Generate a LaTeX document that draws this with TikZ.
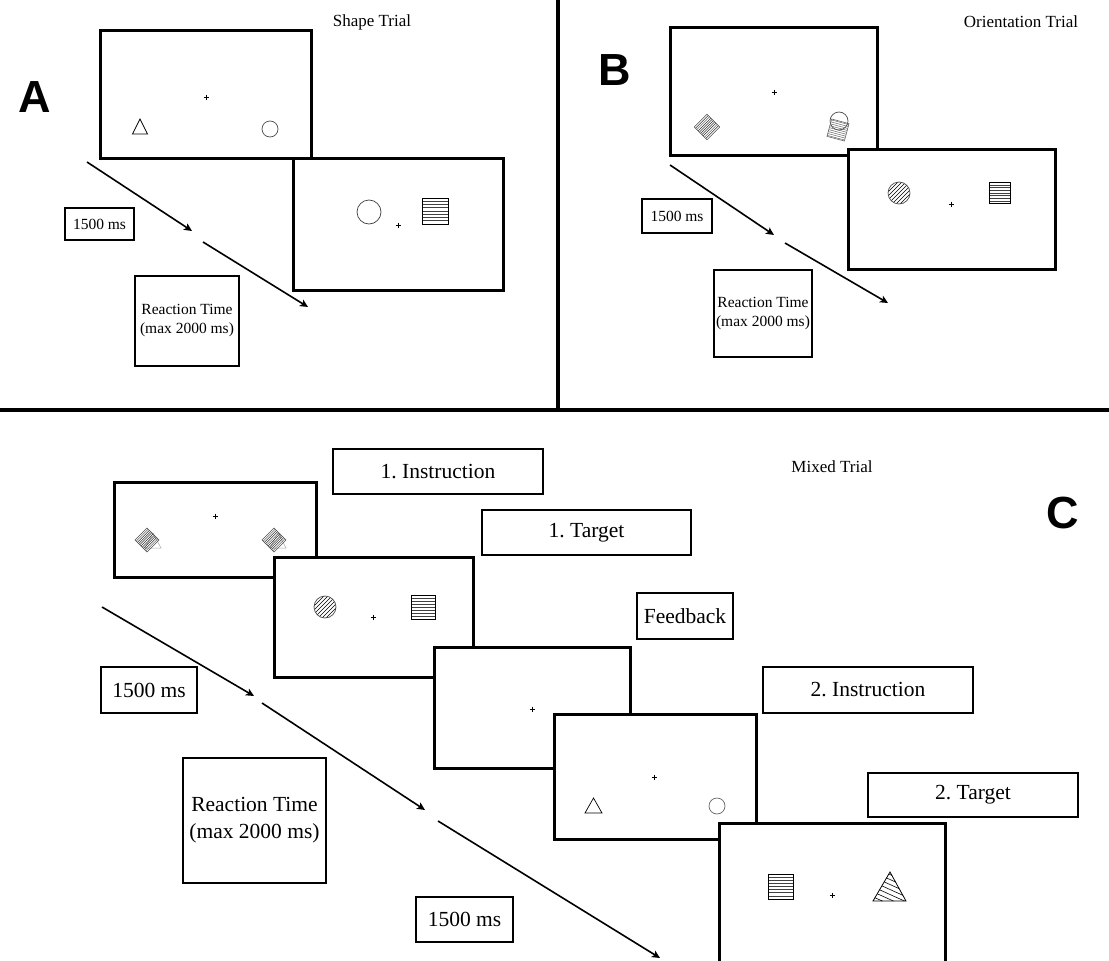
\documentclass[tikz,border=0pt]{standalone}
\usepackage{fontspec}
\setmainfont{Liberation Serif}
\newfontfamily\bigsans{Liberation Sans}
\usetikzlibrary{arrows.meta}
\frenchspacing

\tikzset{
 frame/.style={draw=black, line width=3pt, fill=white},
 lbox/.style={draw=black, line width=2.5pt, fill=white, inner sep=0pt, align=center},
 sm/.style={font=\fontsize{15.5}{19}\selectfont},
 bg/.style={font=\fontsize{21.5}{27}\selectfont},
 ttl/.style={font=\fontsize{17}{20}\selectfont, inner sep=0pt},
 letter/.style={font=\bigsans\bfseries\fontsize{45}{45}\selectfont, inner sep=0pt},
 tl/.style={-{Stealth[length=8pt,width=7.5pt,inset=2pt]}, line width=1.6pt},
 divider/.style={line width=3.5pt},
 fixc/.pic={\draw[line width=0.6pt] (-2.5,0)--(2.5,0) (0,-2.5)--(0,2.5);},
}

\newcommand\stripesq[3]{%
 \begin{scope}[shift={(#1,#2)}]
  \foreach \k in {-3,...,3} \draw[line width=0.6pt, black!75] ({-#3},{\k*#3/4}) -- ({#3},{\k*#3/4});
  \draw[line width=0.8pt] ({-#3},{-#3}) rectangle ({#3},{#3});
 \end{scope}}
\newcommand\hatchcirc[3]{%
 \begin{scope}[shift={(#1,#2)}]
  \begin{scope}\clip (0,0) circle (#3);
   \foreach \k in {-24,-20,...,24} \draw[line width=0.55pt] ({\k-20},20) -- ({\k+20},-20);
  \end{scope}
  \draw[line width=0.7pt, black!70] (0,0) circle (#3);
 \end{scope}}
\newcommand\stripediamond[3]{%
 \begin{scope}[shift={(#1,#2)}, rotate=45]
  \foreach \k in {-4,...,4} \draw[line width=0.5pt, black!80] ({-#3},{\k*#3/5}) -- ({#3},{\k*#3/5});
  \draw[line width=0.6pt, black!70] ({-#3},{-#3}) rectangle ({#3},{#3});
 \end{scope}}

\begin{document}
\begin{tikzpicture}[x=1pt,y=-1pt]
\clip (0,0) rectangle (1109,961);
\fill[white] (0,0) rectangle (1109,961);

% ---------------- Panel A ----------------
\node[letter] (lA) at (35,97) {A};
\node[ttl] (tA) at (372,22) {Shape Trial};
\draw[frame] (100,30) rectangle (311,158);
\pic at (206,97) {fixc};
\draw[line width=0.7pt] (140,119) -- (132.5,134) -- (147.5,134) -- cycle;
\draw[line width=0.7pt, black!70] (270,129) circle (8);
\draw[frame] (293,158) rectangle (503,290);
\draw[line width=0.7pt, black!75] (369,212) circle (12);
\pic at (398,225) {fixc};
\stripesq{435.5}{211}{13}

\coordinate (a1s) at (87,162); \coordinate (a1e) at (192,231);
\coordinate (a2s) at (203,242); \coordinate (a2e) at (308,307);
\draw[tl] (a1s) -- (a1e);
\draw[tl] (a2s) -- (a2e);
\node[lbox, sm, minimum width=69pt, minimum height=32pt] (rA1) at (99.5,224) {1500 ms};
\node[lbox, sm, minimum width=104pt, minimum height=90pt] (rA2) at (187,321) {Reaction Time\\(max 2000 ms)};

% ---------------- Panel B ----------------
\node[letter] (lB) at (615,70) {B};
\node[ttl] (tB) at (1021,22) {Orientation Trial};
\draw[frame] (670,27) rectangle (877,155);
\pic at (774,92) {fixc};
\stripediamond{707}{127}{9}
\draw[line width=0.7pt, black!70] (839,121) circle (9);
\begin{scope}[shift={(838,130)}, rotate=-15]
  \foreach \k in {-4,...,4} \draw[line width=0.5pt, black!60] (-9,{\k*2}) -- (9,{\k*2});
  \draw[line width=0.6pt, black!60] (-9,-9) rectangle (9,9);
\end{scope}
\draw[frame] (848,149) rectangle (1055,269);
\hatchcirc{899}{193}{11}
\pic at (951,204) {fixc};
\stripesq{999.5}{193}{10.5}

\coordinate (b1s) at (670,165); \coordinate (b1e) at (774,235);
\coordinate (b2s) at (785,243); \coordinate (b2e) at (888,303);
\draw[tl] (b1s) -- (b1e);
\draw[tl] (b2s) -- (b2e);
\node[lbox, sm, minimum width=70pt, minimum height=34pt] (rB1) at (677,216) {1500 ms};
\node[lbox, sm, minimum width=98pt, minimum height=87pt] (rB2) at (763,313.5) {Reaction Time\\(max 2000 ms)};

% ---------------- Dividers ----------------
\coordinate (dvt) at (558,0); \coordinate (dvb) at (558,410);
\coordinate (dhl) at (0,410); \coordinate (dhr) at (1109,410);
\draw[divider] (dvt) -- (dvb);
\draw[divider] (dhl) -- (dhr);

% ---------------- Panel C ----------------
\node[letter] (lC) at (1063,513) {C};
\node[ttl] (tC) at (832,467) {Mixed Trial};

\draw[frame] (114,482) rectangle (316,577);
\pic at (215,516) {fixc};
\draw[line width=0.5pt, black!35] (153,533) -- (145,548) -- (161,548) -- cycle;
\stripediamond{147}{540}{8.5}
\draw[line width=0.5pt, black!35] (278,533) -- (270,548) -- (286,548) -- cycle;
\stripediamond{274}{540}{8.5}

\draw[frame] (274,557) rectangle (473,677);
\hatchcirc{325}{607}{11}
\pic at (373,617) {fixc};
\stripesq{423.5}{607}{12}

\draw[frame] (434,647) rectangle (630,768);
\pic at (532,709) {fixc};

\draw[frame] (554,714) rectangle (756,839);
\pic at (654,777) {fixc};
\draw[line width=0.7pt] (593.5,798) -- (585,813) -- (602,813) -- cycle;
\draw[line width=0.7pt, black!60] (717,806) circle (8);

\draw[frame] (719,823) rectangle (945,975);
\stripesq{780.5}{886.5}{12.5}
\pic at (832,895) {fixc};
\begin{scope}
  \clip (890,872) -- (873,901) -- (906,901) -- cycle;
  \foreach \k in {0,...,12} \draw[line width=0.6pt] (860,{846+\k*5}) -- (920,{846+\k*5+27});
\end{scope}
\draw[line width=0.8pt] (890,872) -- (873,901) -- (906,901) -- cycle;

\coordinate (c1s) at (102,607); \coordinate (c1e) at (254,696);
\coordinate (c2s) at (262,703); \coordinate (c2e) at (425,810);
\coordinate (c3s) at (438,821); \coordinate (c3e) at (660,958);
\draw[tl] (c1s) -- (c1e);
\draw[tl] (c2s) -- (c2e);
\draw[tl] (c3s) -- (c3e);

\node[lbox, bg, minimum width=96pt, minimum height=46pt] (rC1) at (149,690) {1500 ms};
\node[lbox, bg, minimum width=143pt, minimum height=125pt] (rC2) at (254.5,820.5) {Reaction Time\\(max 2000 ms)};
\node[lbox, bg, minimum width=97pt, minimum height=45pt] (rC3) at (464.5,919.5) {1500 ms};
\node[lbox, bg, minimum width=210pt, minimum height=45pt] (iC1) at (438,471.5) {1. Instruction};
\node[lbox, bg, minimum width=209pt, minimum height=45pt] (gC1) at (586.5,532.5) {1. Target};
\node[lbox, bg, minimum width=96pt, minimum height=46pt] (fC) at (685,616) {Feedback};
\node[lbox, bg, minimum width=210pt, minimum height=46pt] (iC2) at (868,690) {2. Instruction};
\node[lbox, bg, minimum width=210pt, minimum height=44pt] (gC2) at (973,795) {2. Target};
\end{tikzpicture}
\end{document}
